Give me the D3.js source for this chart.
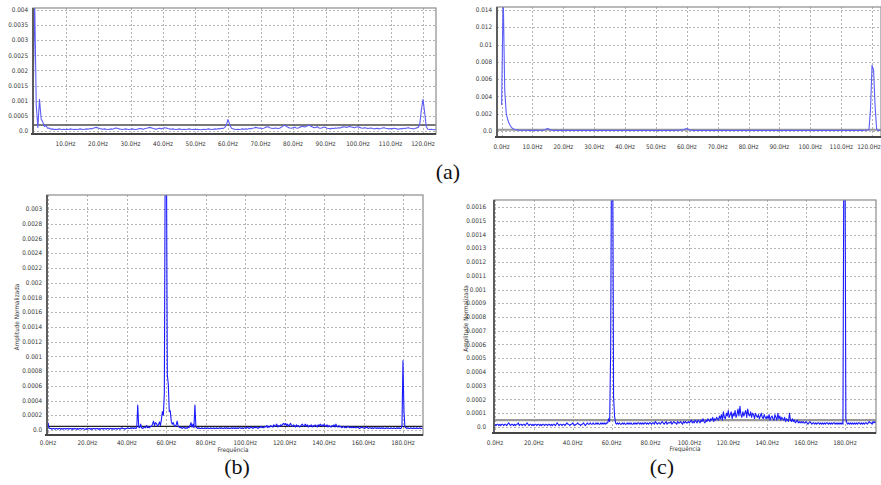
<!DOCTYPE html>
<html><head><meta charset="utf-8">
<script src="https://cdn.jsdelivr.net/npm/d3@7"></script>
<style>body{margin:0;background:#fff}svg{display:block}</style>
</head><body>
<svg id="chart" width="881" height="485"></svg>
<script>
// values stored in units of 1e-5 (normalized amplitude), sampled every 0.5 Hz from 0 Hz
const UNIT = 1e-5;
const STEP_HZ = 0.5;

const a1Values = [
60,440,85,12,105,40,30,15,18,9,
10,6,7,5,6,5,7,6,5,6,
5,6,5,7,6,5,6,5,6,7,
6,5,6,7,6,8,7,9,11,12,
10,8,7,6,7,6,5,6,7,6,
8,10,9,7,6,5,6,7,6,5,
6,7,6,5,6,7,8,7,6,8,
9,11,12,10,8,7,6,8,9,7,
9,11,10,8,7,6,7,6,5,6,
7,6,5,6,5,6,7,6,5,6,
5,6,5,4,5,6,5,6,7,6,
5,6,7,6,8,7,9,8,12,20,
38,22,10,7,6,5,6,5,6,7,
6,7,6,8,7,9,10,12,11,9,
10,8,9,12,14,13,10,9,8,10,
9,8,10,13,17,19,15,12,10,9,
11,13,10,9,12,14,16,13,15,17,
19,16,13,11,12,14,10,9,11,13,
12,9,8,7,9,8,10,9,11,10,
12,14,13,12,14,15,13,12,11,13,
14,12,10,9,11,10,8,9,10,8,
7,8,9,7,8,10,11,9,8,7,
8,7,9,8,7,6,8,7,9,8,
10,11,9,8,7,8,10,12,22,70,
105,62,14,6,5,6,5,4,5];

const a2Values = [
300,1600,470,200,130,80,50,30,22,15,
12,10,9,8,10,9,8,7,8,7,
6,7,8,7,6,8,9,10,14,22,
30,18,10,8,7,8,7,6,7,8,
7,6,8,7,6,7,8,7,6,7,
8,7,6,7,8,6,7,8,7,6,
7,8,6,7,6,8,7,6,7,8,
6,7,8,7,6,7,6,8,7,6,
7,6,7,8,6,7,8,6,7,6,
8,7,6,7,8,6,7,6,8,7,
6,7,8,6,7,6,7,8,6,7,
7,6,8,7,9,8,10,12,16,24,
30,20,12,9,7,8,6,7,8,6,
7,8,6,7,6,8,7,6,7,8,
6,7,8,7,6,7,8,6,7,6,
8,7,6,7,8,6,7,8,6,7,
7,6,8,7,6,7,8,7,6,8,
7,6,7,8,6,7,6,8,7,6,
7,8,6,7,8,7,6,7,8,6,
7,6,8,7,6,8,7,6,7,8,
6,7,8,6,7,6,8,7,6,7,
8,6,7,8,6,7,6,8,7,6,
7,8,6,7,6,8,7,6,7,8,
6,7,8,7,6,8,9,12,15,250,
760,700,280,20,8,6,7];

const bValues = [
10,3,2,2,1,2,2,1,2,2,
1,2,2,1,2,1,2,2,1,2,
2,1,2,2,1,2,1,2,2,1,
2,1,2,2,1,2,2,1,1,2,
1,2,2,1,2,1,2,2,1,2,
2,1,2,1,2,2,1,2,2,1,
2,2,1,2,2,1,2,1,2,2,
1,2,2,1,2,3,2,2,1,2,
2,3,2,2,3,2,3,2,3,2,
3,34,4,3,8,3,2,3,4,3,
6,3,4,3,5,5,8,12,6,10,
9,5,7,11,6,14,25,20,50,420,
420,75,62,25,26,12,8,10,6,5,
7,12,5,4,3,4,2,3,4,2,
3,2,4,3,6,10,4,8,3,34,
4,3,2,3,2,2,3,2,2,3,
2,2,3,2,2,3,2,2,3,2,
2,3,2,2,3,2,3,2,2,3,
2,3,2,3,2,2,3,2,3,2,
3,2,3,2,3,3,2,3,2,3,
3,2,4,3,2,3,4,3,2,4,
3,4,3,2,4,3,5,3,4,3,
5,4,6,3,5,4,6,5,4,7,
5,6,8,4,6,5,7,6,8,9,
7,9,6,8,5,7,9,6,5,7,
6,4,7,5,6,4,5,7,8,5,
6,8,5,7,4,6,5,7,4,6,
5,7,6,4,7,5,8,6,7,5,
8,6,5,7,4,6,5,4,6,5,
7,4,8,5,4,6,4,5,3,4,
5,3,4,3,5,4,3,4,3,4,
3,4,3,3,4,3,2,3,4,3,
3,2,3,4,3,2,3,3,2,3,
2,3,3,2,3,2,3,2,3,2,
3,2,2,3,2,3,2,2,3,2,
2,3,2,2,3,2,3,2,2,5,
94,25,4,3,2,3,2,2,3,2,
2,3,2,2,3,2,2,3,2,2,
3];

const cValues = [
2,1,2,2,1,2,1,2,2,1,
2,2,1,2,3,2,1,2,2,1,
2,1,2,2,3,1,2,2,1,2,
2,1,2,3,2,1,2,2,1,2,
1,2,2,1,2,2,1,2,1,2,
2,1,2,2,1,2,2,1,2,1,
2,2,1,2,3,2,1,2,2,1,
2,2,1,2,3,2,2,1,2,2,
3,2,1,2,2,3,2,2,1,2,
2,3,2,1,2,3,2,2,3,2,
2,3,2,2,3,2,3,2,2,3,
2,3,2,3,2,3,3,6,4,55,
220,220,22,8,3,2,3,2,3,2,
2,3,2,3,2,2,3,2,3,2,
3,2,2,3,2,3,2,3,3,2,
3,2,3,2,3,3,2,3,2,3,
3,2,3,3,2,4,3,2,3,3,
2,3,4,3,2,3,4,2,3,3,
3,4,2,3,4,3,3,2,4,3,
3,4,3,2,4,3,4,3,3,4,
3,4,5,3,4,3,5,4,3,5,
4,3,5,4,6,4,3,5,4,6,
5,4,6,5,7,4,6,5,7,6,
5,8,6,9,5,11,7,6,10,8,
12,7,9,11,6,10,8,12,7,9,
13,8,15,9,7,11,8,10,12,7,
13,9,8,11,7,10,9,6,10,8,
7,9,6,8,10,7,6,9,7,6,
8,6,9,5,7,8,6,5,9,7,
5,10,6,8,5,7,6,5,7,4,
6,5,4,10,5,4,6,4,5,3,
4,5,3,4,3,4,3,4,3,3,
4,3,2,3,4,3,2,3,3,2,
3,2,3,3,2,3,2,3,2,3,
2,3,3,2,3,2,3,2,3,3,
2,3,2,3,2,3,2,3,2,220,
220,6,3,2,3,2,3,2,3,2,
3,2,3,2,3,3,2,3,2,3,
2,3,3,2,3,4,3,3,2,4,
3,4,3];

// tick values and labels
const a1YTicks = [0,0.0005,0.001,0.0015,0.002,0.0025,0.003,0.0035,0.004];
const a1YLabels = ["0.0","0.0005","0.001","0.0015","0.002","0.0025","0.003","0.0035","0.004"];
const a1XTicks = [10,20,30,40,50,60,70,80,90,100,110,120];
const a1XLabels = ["10.0Hz","20.0Hz","30.0Hz","40.0Hz","50.0Hz","60.0Hz","70.0Hz","80.0Hz","90.0Hz","100.0Hz","110.0Hz","120.0Hz"];

const a2YTicks = [0,0.002,0.004,0.006,0.008,0.01,0.012,0.014];
const a2YLabels = ["0.0","0.002","0.004","0.006","0.008","0.01","0.012","0.014"];
const a2XTicks = [0,10,20,30,40,50,60,70,80,90,100,110,120];
const a2XLabels = ["0.0Hz","10.0Hz","20.0Hz","30.0Hz","40.0Hz","50.0Hz","60.0Hz","70.0Hz","80.0Hz","90.0Hz","100.0Hz","110.0Hz","120.0Hz"];

const bYTicks = [0,0.0002,0.0004,0.0006,0.0008,0.001,0.0012,0.0014,0.0016,0.0018,0.002,0.0022,0.0024,0.0026,0.0028,0.003];
const bYLabels = ["0.0","0.0002","0.0004","0.0006","0.0008","0.001","0.0012","0.0014","0.0016","0.0018","0.002","0.0022","0.0024","0.0026","0.0028","0.003"];
const bcXTicks = [0,20,40,60,80,100,120,140,160,180];
const bcXLabels = ["0.0Hz","20.0Hz","40.0Hz","60.0Hz","80.0Hz","100.0Hz","120.0Hz","140.0Hz","160.0Hz","180.0Hz"];

const cYTicks = [0,0.0001,0.0002,0.0003,0.0004,0.0005,0.0006,0.0007,0.0008,0.0009,0.001,0.0011,0.0012,0.0013,0.0014,0.0015,0.0016];
const cYLabels = ["0.0","0.0001","0.0002","0.0003","0.0004","0.0005","0.0006","0.0007","0.0008","0.0009","0.001","0.0011","0.0012","0.0013","0.0014","0.0015","0.0016"];

const thresholds = {a1:0.0002, a2:0.00015, b:0.00005, c:0.00005};

const panels = [
  {id:"a1", values:a1Values, x0:33, x1:436, y0:8, y1:134, xd:[0,124], yd:[-0.0000992,0.004066],
   yt:a1YTicks, yl:a1YLabels, xt:a1XTicks, xl:a1XLabels, lineColor:"#5d5df7", thrColor:"#4d4d4d", thrW:1.6, xlabY:144, ylGap:5},
  {id:"a2", values:a2Values, x0:497, x1:881, y0:7, y1:137, xd:[-1.5,122.9], yd:[-0.000694,0.014347],
   yt:a2YTicks, yl:a2YLabels, xt:a2XTicks, xl:a2XLabels, lineColor:"#5d5df7", thrColor:"#9a9a9a", thrW:2, xlabY:147, ylGap:5},
  {id:"b", values:bValues, x0:47, x1:423, y0:195, y1:435, xd:[-0.507,190.16], yd:[-0.0000678,0.003189],
   yt:bYTicks, yl:bYLabels, xt:bcXTicks, xl:bcXLabels, lineColor:"#1a1aff", thrColor:"#222", thrW:1.3, xlabY:443, ylGap:5,
   ytitle:"Amplitude Normalizada", ytx:17, xtitle:"Frequência", xtx:233, xty:450},
  {id:"c", values:cValues, x0:494, x1:876, y0:200, y1:433, xd:[-0.514,196.0], yd:[-0.0000438,0.0016511],
   yt:cYTicks, yl:cYLabels, xt:bcXTicks, xl:bcXLabels, lineColor:"#1a1aff", thrColor:"#9a9a9a", thrW:2.4, xlabY:443, ylGap:8,
   ytitle:"Amplitude Normalizada", ytx:466, xtitle:"Frequência", xtx:685, xty:449}
];

const svg = d3.select("#chart");
const defs = svg.append("defs");
const FONT = "Liberation Sans Narrow, DejaVu Sans Condensed, Liberation Sans, Arial, sans-serif";
const FS = 6.3;

panels.forEach(p => {
  const x = d3.scaleLinear().domain(p.xd).range([p.x0, p.x1]);
  const y = d3.scaleLinear().domain(p.yd).range([p.y1, p.y0]);
  const g = svg.append("g");
  defs.append("clipPath").attr("id","clip-"+p.id)
    .append("rect").attr("x",p.x0).attr("y",p.y0).attr("width",p.x1-p.x0).attr("height",p.y1-p.y0);

  g.append("rect").attr("x",p.x0).attr("y",p.y0).attr("width",p.x1-p.x0).attr("height",p.y1-p.y0)
    .attr("fill","#fff");

  // grid
  g.selectAll(".hg").data(p.yt).enter().append("line")
    .attr("x1",p.x0).attr("x2",p.x1).attr("y1",d=>Math.round(y(d))+0.5).attr("y2",d=>Math.round(y(d))+0.5)
    .attr("stroke","#b4b4b4").attr("stroke-width",1).attr("stroke-dasharray","2,2");
  g.selectAll(".vg").data(p.xt).enter().append("line")
    .attr("x1",d=>Math.round(x(d))+0.5).attr("x2",d=>Math.round(x(d))+0.5).attr("y1",p.y0).attr("y2",p.y1)
    .attr("stroke","#b4b4b4").attr("stroke-width",1).attr("stroke-dasharray","2,2");

  // threshold line
  const ty = y(thresholds[p.id]);
  g.append("line").attr("x1",p.x0).attr("x2",p.x1).attr("y1",ty).attr("y2",ty)
    .attr("stroke",p.thrColor).attr("stroke-width",p.thrW);

  // spectrum
  const line = d3.line().x((d,i)=>x(i*STEP_HZ)).y(d=>y(d*UNIT));
  g.append("path").attr("d", line(p.values)).attr("clip-path","url(#clip-"+p.id+")")
    .attr("fill","none").attr("stroke",p.lineColor).attr("stroke-width",1.1).attr("stroke-linejoin","round");

  // frame
  g.append("rect").attr("x",p.x0).attr("y",p.y0).attr("width",p.x1-p.x0).attr("height",p.y1-p.y0)
    .attr("fill","none").attr("stroke","#8c8c8c").attr("stroke-width",1.2);
  g.append("line").attr("x1",p.x0).attr("x2",p.x0).attr("y1",p.y0).attr("y2",p.y1)
    .attr("stroke","#555").attr("stroke-width",1.8);
  g.append("line").attr("x1",p.x0-2).attr("x2",p.x1).attr("y1",p.y1).attr("y2",p.y1)
    .attr("stroke","#444").attr("stroke-width",2);

  // y labels
  g.selectAll(".yl").data(p.yt).enter().append("text")
    .attr("x",p.x0-p.ylGap).attr("y",d=>y(d)).attr("dy","0.35em").attr("text-anchor","end")
    .attr("font-family",FONT).attr("font-size",FS).attr("fill","#333")
    .text((d,i)=>p.yl[i]);
  // x labels (keep the last one inside the window)
  g.selectAll(".xl").data(p.xt).enter().append("text")
    .attr("x",d=>Math.min(x(d), 869)).attr("y",p.xlabY).attr("dy","0.35em").attr("text-anchor","middle")
    .attr("font-family",FONT).attr("font-size",FS).attr("fill","#333")
    .text((d,i)=>p.xl[i]);

  if (p.ytitle) {
    const cy = (p.y0+p.y1)/2 + 2;
    g.append("text").attr("transform",`translate(${p.ytx},${cy}) rotate(-90)`)
      .attr("text-anchor","middle").attr("dy","0.35em")
      .attr("font-family",FONT).attr("font-size",FS).attr("fill","#333").text(p.ytitle);
    g.append("text").attr("x",p.xtx).attr("y",p.xty).attr("text-anchor","middle").attr("dy","0.35em")
      .attr("font-family",FONT).attr("font-size",FS).attr("fill","#333").text(p.xtitle);
  }
});

// captions
const captions = [{t:"(a)",x:448,y:179},{t:"(b)",x:237,y:474},{t:"(c)",x:662,y:474}];
svg.selectAll(".cap").data(captions).enter().append("text")
  .attr("x",d=>d.x).attr("y",d=>d.y).attr("text-anchor","middle")
  .attr("font-family","Liberation Serif, Times New Roman, serif").attr("font-size",22).attr("fill","#111")
  .text(d=>d.t);
</script>
</body></html>
